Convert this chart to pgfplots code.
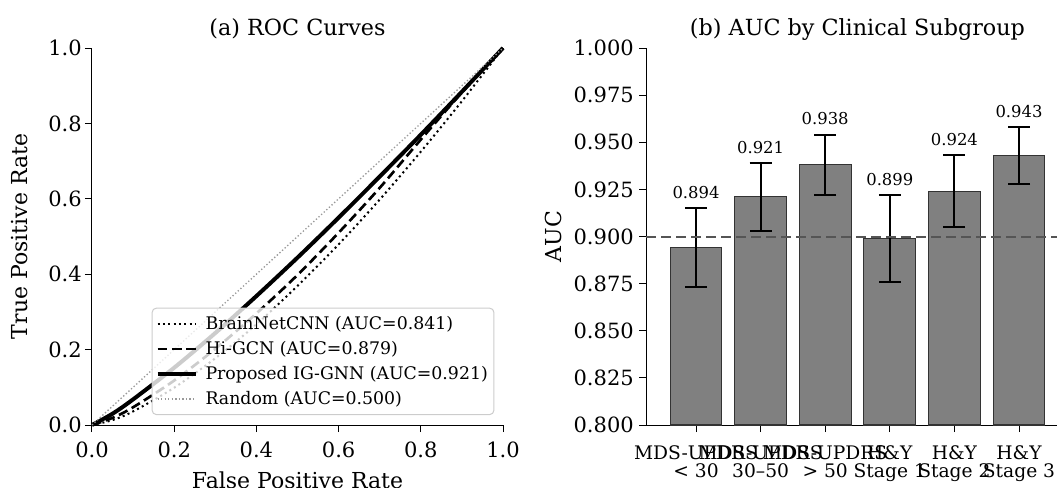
\documentclass[border=0pt]{standalone}
\usepackage{fontspec}
\setmainfont{DejaVu Serif}
\usepackage{pgfplots}
\pgfplotsset{compat=1.18}
\usepackage{pgfplotstable}

\definecolor{barfill}{HTML}{808080}
\definecolor{baredge}{HTML}{333333}
\definecolor{refline}{HTML}{555555}
\definecolor{randgray}{HTML}{999999}
\definecolor{legframe}{HTML}{CCCCCC}

\pgfplotstableread{
x y err
0 0.894 0.021
1 0.921 0.018
2 0.938 0.016
3 0.899 0.023
4 0.924 0.019
5 0.943 0.015
}\aucdata

\pgfplotsset{
  common/.style={
    scale only axis,
    /pgf/number format/assume math mode=true,
    axis x line*=bottom, axis y line*=left,
    axis line style={line width=0.75pt},
    tick align=outside,
    major tick length=5.25pt,
    tick style={line width=0.75pt, black},
    tick label style={font=\fontsize{15.75}{18}\selectfont},
    title style={font=\fontsize{16.7}{20}\selectfont, at={(axis description cs:0.5,1)}, anchor=base, yshift=3.5pt},
  }
}

\begin{document}
\begin{tikzpicture}
\begin{axis}[common,
  at={(69pt,46.5pt)}, anchor=south west,
  width=308.25pt, height=282.75pt,
  xmin=0, xmax=1, ymin=0, ymax=1,
  clip=false,
  xtick={0,0.2,0.4,0.6,0.8,1}, ytick={0,0.2,0.4,0.6,0.8,1},
  xticklabel style={anchor=base, inner sep=0pt, yshift=-18.75pt,
    /pgf/number format/fixed, /pgf/number format/fixed zerofill, /pgf/number format/precision=1},
  yticklabel style={anchor=east, inner sep=0pt, xshift=-2.25pt,
    /pgf/number format/fixed, /pgf/number format/fixed zerofill, /pgf/number format/precision=1},
  every axis x label/.style={at={(axis description cs:0.5,0)}, anchor=base, yshift=-47.25pt, font=\fontsize{16.5}{19}\selectfont},
  every axis y label/.style={at={(axis description cs:0,0.5)}, xshift=-48pt, rotate=90, anchor=base, font=\fontsize{16.5}{19}\selectfont},
  xlabel={False Positive Rate}, ylabel={True Positive Rate},
  title={(a) ROC Curves},
  legend style={at={(axis description cs:1,0)}, anchor=south east, xshift=-6.5pt, yshift=7.5pt,
    draw=legframe, line width=0.75pt, rounded corners=3pt, fill=white, fill opacity=0.8,
    text opacity=1, draw opacity=1,
    font=\fontsize{13}{15.6}\selectfont, inner xsep=2.5pt, inner ysep=4pt, row sep=3.4pt,
    nodes={inner sep=2pt, text depth=0.15em}},
  legend cell align=left,
  legend image code/.code={\draw[#1] (0pt,0pt) -- (28.5pt,0pt); \path[draw=none] (0pt,0pt) -- (34pt,0pt);},
]
\addplot[black, line width=1.5pt, dash pattern=on 1.5pt off 2.5pt, smooth] coordinates {
(0,0)(0.05,0.013)(0.1,0.036)(0.2,0.099)(0.3,0.177)(0.4,0.267)(0.5,0.369)(0.6,0.479)(0.7,0.598)(0.8,0.725)(0.9,0.859)(1,1)};
\addlegendentry{BrainNetCNN (AUC=0.841)}
\addplot[black, line width=2pt, dash pattern=on 7.2pt off 3.6pt, smooth] coordinates {
(0,0)(0.05,0.019)(0.1,0.047)(0.2,0.118)(0.3,0.202)(0.4,0.296)(0.5,0.398)(0.6,0.510)(0.7,0.629)(0.8,0.757)(0.9,0.882)(1,1)};
\addlegendentry{Hi-GCN (AUC=0.879)}
\addplot[black, line width=3pt, smooth] coordinates {
(0,0)(0.05,0.030)(0.1,0.068)(0.2,0.152)(0.3,0.244)(0.4,0.342)(0.5,0.444)(0.6,0.550)(0.7,0.659)(0.8,0.770)(0.9,0.884)(1,1)};
\addlegendentry{Proposed IG-GNN (AUC=0.921)}
\addplot[randgray, line width=1pt, dash pattern=on 1pt off 1.65pt] coordinates {(0,0)(1,1)};
\addlegendentry{Random (AUC=0.500)}
\end{axis}

\begin{axis}[common,
  at={(484.5pt,46.5pt)}, anchor=south west,
  width=317.25pt, height=282.75pt,
  xmin=-0.774, xmax=5.774, ymin=0.8, ymax=1.0,
  ytick={0.8,0.825,0.85,0.875,0.9,0.925,0.95,0.975,1.0},
  xtick={0,1,2,3,4,5},
  xticklabels={{MDS-UPDRS\\< 30},{MDS-UPDRS\\30--50},{MDS-UPDRS\\> 50},{H\&Y\\Stage 1},{H\&Y\\Stage 2},{H\&Y\\Stage 3}},
  xticklabel style={font=\fontsize{14}{13.5}\selectfont, align=center, anchor=north, inner sep=0pt, yshift=-10pt},
  yticklabel style={anchor=east, inner sep=0pt, xshift=-3.75pt,
    /pgf/number format/fixed, /pgf/number format/fixed zerofill, /pgf/number format/precision=3},
  every axis y label/.style={at={(axis description cs:0,0.5)}, xshift=-63.75pt, rotate=90, anchor=base, font=\fontsize{16.5}{19}\selectfont},
  ylabel={AUC},
  title={(b) AUC by Clinical Subgroup},
]
\addplot[ybar, bar width=0.8, fill=barfill, draw=baredge, line width=0.8pt,
  nodes near coords={\pgfmathprintnumber[fixed,fixed zerofill,precision=3]{\pgfplotspointmeta}},
  visualization depends on={\thisrow{err} \as \myerr},
  every node near coord/.append style={font=\fontsize{12.3}{14}\selectfont, text=black, inner sep=0pt, yshift=\myerr*1413.75pt+6.75pt},
  error bars/.cd, y dir=both, y explicit,
  error bar style={line width=1.5pt, black},
  error mark options={rotate=90, mark size=8.25pt, line width=1.5pt, black}]
  table[x=x, y=y, y error=err] {\aucdata};
\addplot[refline, line width=1.5pt, dash pattern=on 7.5pt off 3.75pt] coordinates {(-1,0.9) (7,0.9)};
\end{axis}
\pgfresetboundingbox
\path[use as bounding box] (0,0) rectangle (792.75pt,365.25pt);
\end{tikzpicture}
\end{document}
